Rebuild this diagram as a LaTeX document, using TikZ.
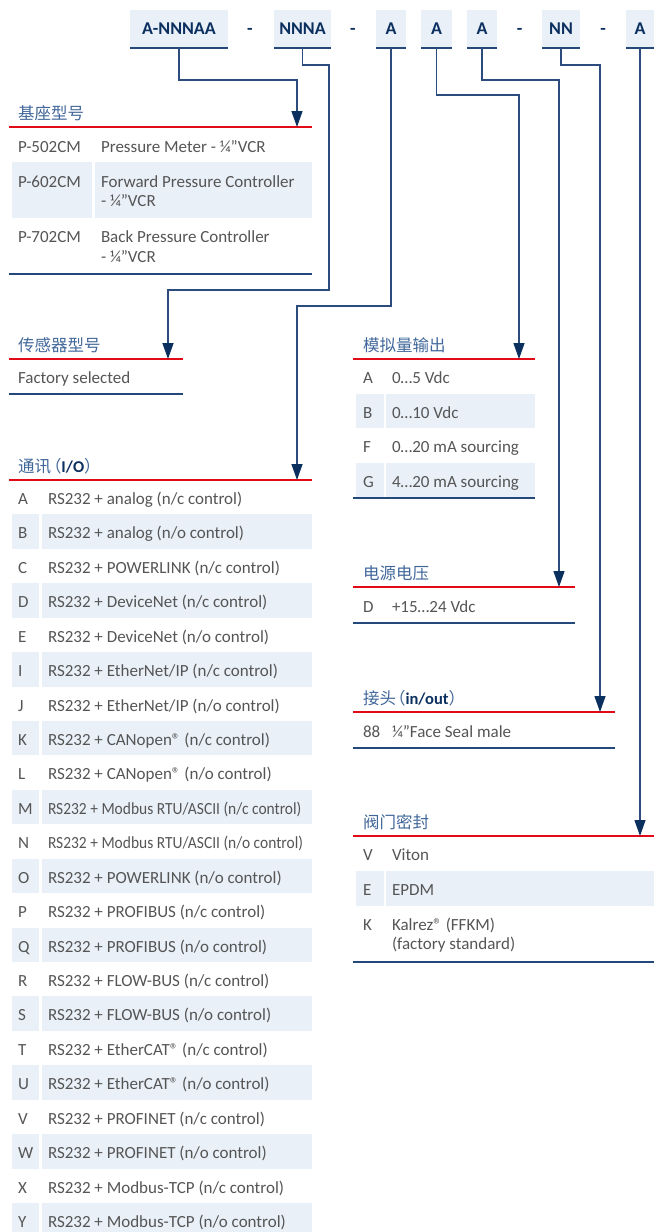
\documentclass[tikz,border=0pt]{standalone}
\usepackage{fontspec}
\setmainfont{Carlito}
\newfontfamily\cjk{Noto Sans CJK SC}
\usetikzlibrary{arrows.meta}
\definecolor{navy}{HTML}{0B2F5E}
\definecolor{linecol}{HTML}{2B4C7C}
\definecolor{rulecol}{HTML}{24487A}
\definecolor{redc}{HTML}{E20A16}
\definecolor{boxfill}{HTML}{E9F0F8}
\definecolor{txtgray}{HTML}{555555}
\definecolor{headblue}{HTML}{41679A}
\newcommand\regm{®}
\begin{document}
\begin{tikzpicture}[x=1pt,y=-1pt,
  every node/.style={inner sep=0pt,outer sep=0pt},
  txt/.style={anchor=base west,text=txtgray,font=\fontsize{17}{20}\selectfont},
  head/.style={anchor=base west,text=headblue,font=\cjk\fontsize{16.5}{20}\selectfont},
  hdr/.style={fill=boxfill,minimum height=38.5,text=navy,font=\bfseries\fontsize{18}{18}\selectfont},
  hyph/.style={text=navy,font=\bfseries\fontsize{18}{18}\selectfont},
  conn/.style={draw=linecol,line width=1.3,-{Triangle[width=11pt,length=16pt,color=navy]}},
  redrule/.style={draw=redc,line width=1.3},
  navyrule/.style={draw=rulecol,line width=1.5},
  cellbg/.style={fill=boxfill}]
\useasboundingbox (0,0) rectangle (654,1232);
% ---------- header ----------
\node[hdr,minimum width=98] (h1) at (179,28.75) {A-NNNAA};
\node[hyph] (d1) at (250,31) {-};
\node[hdr,minimum width=57] (h2) at (302.5,28.75) {NNNA};
\node[hyph] (d2) at (353,31) {-};
\node[hdr,minimum width=30] (h3) at (391,28.75) {A};
\node[hdr,minimum width=31] (h4) at (436.5,28.75) {A};
\node[hdr,minimum width=30] (h5) at (482,28.75) {A};
\node[hyph] (d3) at (519.5,31) {-};
\node[hdr,minimum width=38] (h6) at (561,28.75) {NN};
\node[hyph] (d4) at (603,31) {-};
\node[hdr,minimum width=28] (h7) at (640,28.75) {A};
\foreach \n in {h1,h2,h3,h4,h5,h6,h7}
  \draw[navyrule] (\n.south west) -- (\n.south east);
% ---------- shading ----------
\fill[cellbg] (12,162) rectangle (92,218);
\fill[cellbg] (95,162) rectangle (312,218);
\foreach \i in {1,3,...,21}{
  \pgfmathsetmacro\yt{480+\i*34.43}
  \fill[cellbg] (12,\yt) rectangle (39,{\yt+34.43});
  \fill[cellbg] (42,\yt) rectangle (312,{\yt+34.43});
}
\foreach \i in {1,3}{
  \pgfmathsetmacro\yt{359+\i*34.5}
  \fill[cellbg] (356,\yt) rectangle (384,{\yt+34.5});
  \fill[cellbg] (386,\yt) rectangle (535,{\yt+34.5});
}
\fill[cellbg] (356,871) rectangle (384,906);
\fill[cellbg] (386,871) rectangle (654,906);
% ---------- section rules ----------
\draw[redrule] (9,127) -- (312,127);
\draw[navyrule] (9,274) -- (312,274);
\draw[redrule] (9,359) -- (183,359);
\draw[navyrule] (9,394) -- (183,394);
\draw[redrule] (9,480) -- (312,480);
\draw[redrule] (353,359) -- (535,359);
\draw[navyrule] (353,498) -- (535,498);
\draw[redrule] (353,587) -- (575,587);
\draw[navyrule] (353,623) -- (575,623);
\draw[redrule] (353,712) -- (615,712);
\draw[navyrule] (353,748) -- (615,748);
\draw[redrule] (353,836) -- (654,836);
\draw[navyrule] (353,962) -- (654,962);
% ---------- connector targets ----------
\coordinate (k1) at (297,80);   \coordinate (t1) at (297,127);
\coordinate (k2a) at (329,65);  \coordinate (k2b) at (168,290); \coordinate (t2) at (168,359);
\coordinate (k3) at (297,306);  \coordinate (t3) at (297,480);
\coordinate (k4) at (519,95);   \coordinate (t4) at (519,359);
\coordinate (k5) at (559,80);   \coordinate (t5) at (559,587);
\coordinate (k6) at (600,65);   \coordinate (t6) at (600,712);
\coordinate (t7) at (640,836);
\draw[conn] (h1.south) |- (k1) -- (t1);
\draw[conn] (h2.south) |- (k2a) |- (k2b) -- (t2);
\draw[conn] (h3.south) |- (k3) -- (t3);
\draw[conn] (h4.south) |- (k4) -- (t4);
\draw[conn] (h5.south) |- (k5) -- (t5);
\draw[conn] (h6.south) |- (k6) -- (t6);
\draw[conn] (h7.south) -- (t7);
% ---------- section 1 ----------
\node[head] (s1h) at (18,119) {基座型号};
\node[txt] (s1a) at (18,152) {P-502CM};
\node[txt] (s1at) at (101,152) {Pressure Meter - ¼”VCR};
\node[txt] (s1b) at (18,187) {P-602CM};
\node[txt] (s1bt) at (101,187) {Forward Pressure Controller};
\node[txt] (s1bu) at (101,206.5) {- ¼”VCR};
\node[txt] (s1c) at (18,242) {P-702CM};
\node[txt] (s1ct) at (101,242) {Back Pressure Controller};
\node[txt] (s1cu) at (101,262) {- ¼”VCR};
% ---------- section 2 ----------
\node[head] (s2h) at (18,351) {传感器型号};
\node[txt] (s2a) at (18,383) {Factory selected};
% ---------- section 3 ----------
\node[head] (s3h) at (18,472) {通讯\kern-6pt（{\rmfamily\bfseries\color{navy}I/O}）};
\foreach \l/\t [count=\i from 0] in {
 A/{RS232 + analog (n/c control)},
 B/{RS232 + analog (n/o control)},
 C/{RS232 + POWERLINK (n/c control)},
 D/{RS232 + DeviceNet (n/c control)},
 E/{RS232 + DeviceNet (n/o control)},
 I/{RS232 + EtherNet/IP (n/c control)},
 J/{RS232 + EtherNet/IP (n/o control)},
 K/{RS232 + CANopen\regm{} (n/c control)},
 L/{RS232 + CANopen\regm{} (n/o control)},
 M/{\scalebox{0.91}[1]{RS232 + Modbus RTU/ASCII (n/c control)}},
 N/{\scalebox{0.91}[1]{RS232 + Modbus RTU/ASCII (n/o control)}},
 O/{RS232 + POWERLINK (n/o control)},
 P/{RS232 + PROFIBUS (n/c control)},
 Q/{RS232 + PROFIBUS (n/o control)},
 R/{RS232 + FLOW-BUS (n/c control)},
 S/{RS232 + FLOW-BUS (n/o control)},
 T/{RS232 + EtherCAT\regm{} (n/c control)},
 U/{RS232 + EtherCAT\regm{} (n/o control)},
 V/{RS232 + PROFINET (n/c control)},
 W/{RS232 + PROFINET (n/o control)},
 X/{RS232 + Modbus-TCP (n/c control)},
 Y/{RS232 + Modbus-TCP (n/o control)}}{
  \pgfmathsetmacro\yb{504.5+\i*34.43}
  \node[txt] (iol\i) at (18,\yb) {\l};
  \node[txt] (iot\i) at (48,\yb) {\t};
}
% ---------- section 4 ----------
\node[head] (s4h) at (363,351) {模拟量输出};
\node[txt] (s4a) at (363,383.5) {A};
\node[txt] (s4at) at (392,383.5) {0…5 Vdc};
\node[txt] (s4b) at (363,418) {B};
\node[txt] (s4bt) at (392,418) {0…10 Vdc};
\node[txt] (s4c) at (363,452.5) {F};
\node[txt] (s4ct) at (392,452.5) {0…20 mA sourcing};
\node[txt] (s4d) at (363,487) {G};
\node[txt] (s4dt) at (392,487) {4…20 mA sourcing};
% ---------- section 5 ----------
\node[head] (s5h) at (363,579) {电源电压};
\node[txt] (s5a) at (363,612) {D};
\node[txt] (s5at) at (392,612) {+15…24 Vdc};
% ---------- section 6 ----------
\node[head] (s6h) at (363,704) {接头\kern-7pt（{\rmfamily\bfseries\color{navy}in/out}）};
\node[txt] (s6a) at (363,737) {88};
\node[txt] (s6at) at (392,737) {¼”Face Seal male};
% ---------- section 7 ----------
\node[head] (s7h) at (363,828) {阀门密封};
\node[txt] (s7a) at (363,860.5) {V};
\node[txt] (s7at) at (392,860.5) {Viton};
\node[txt] (s7b) at (363,895) {E};
\node[txt] (s7bt) at (392,895) {EPDM};
\node[txt] (s7c) at (363,930) {K};
\node[txt] (s7ct) at (392,930) {Kalrez\regm{} (FFKM)};
\node[txt] (s7cu) at (392,949.5) {(factory standard)};
\end{tikzpicture}
\end{document}
